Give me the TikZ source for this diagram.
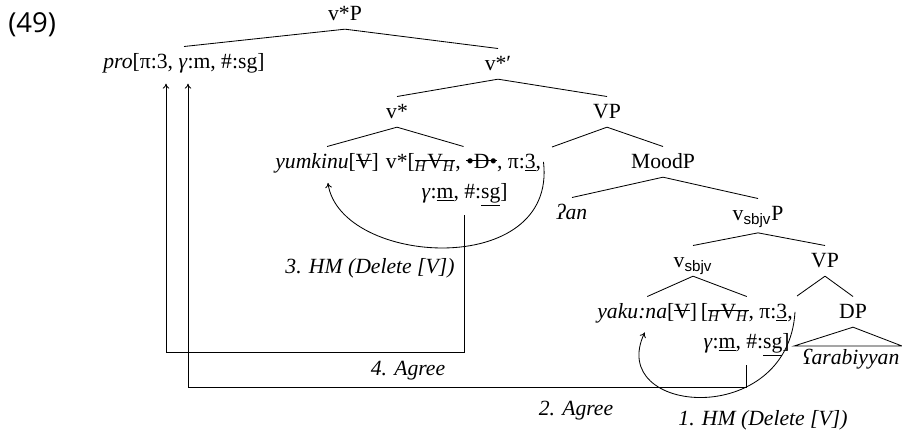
\documentclass[12pt,tikz,border=0pt]{standalone}
\usepackage{fontspec}
\setmainfont{Liberation Serif}
\setsansfont{Liberation Sans}
\newfontfamily\exfont{Open Sans}
\usetikzlibrary{arrows.meta,positioning,calc}
\newsavebox{\strkbox}
\newcommand{\strk}[1]{\sbox{\strkbox}{#1}\rlap{\usebox{\strkbox}}%
  \rule[0.32em]{\wd\strkbox}{0.45pt}}
\newcommand{\hsub}{\textsubscript{\textit{H}}}
\newcommand{\sbjv}{\textsubscript{\sffamily sbjv}}
\tikzset{
  cat/.style={anchor=base,text height=9.7pt,text depth=2.3pt,
              inner ysep=3pt,inner xsep=1.2pt},
  feat/.style={cat,anchor=base east},
  branch/.style={line width=0.5pt},
  movearr/.style={-{To[length=3pt,width=4pt]},line width=0.5pt,
                  shorten >=3.5pt},
  agreearr/.style={-{To[length=3pt,width=4pt]},line width=0.5pt,
                   shorten <=4.8pt,shorten >=3.9pt},
  steplabel/.style={anchor=base,font=\itshape,inner sep=0pt}
}
\begin{document}
\fontsize{13}{15.6}\selectfont
\begin{tikzpicture}[x=0.6pt,y=-0.6pt]
  \useasboundingbox (0,0) rectangle (902,431);

  \node[anchor=base west,inner sep=0pt,
        font=\exfont\fontsize{16.5}{19}\selectfont] (exno) at (8,32) {(49)};

  % categories
  \node[cat] (vsP) at (345,20) {v*P};
  \node[cat] (pro) at (184,68)
    {\textit{pro}[π:3, \textit{γ}:m, \#:sg]};
  \node[cat] (vsbar) at (498,70) {v*′};
  \node[cat] (vs) at (397,118) {v*};
  \node[cat] (vp) at (607,118) {VP};
  \node[cat,anchor=base west] (yum) at (273,168) {\textit{yumkinu}[\strk{V}]};
  \node[cat,base right=1.5pt of yum] (vsfeat)
    {v*[\strk{\hsub V\hsub}, \strk{•D•}, π:\underline{3},};
  \node[feat] (vsfeatb) at (510,198)
    {\textit{γ}:\underline{m}, \#:\underline{sg}]};
  \node[cat] (moodp) at (663,168) {MoodP};
  \node[cat] (an) at (572,219) {\textit{ʔan}};
  \node[cat,text depth=4.5pt] (vsbjvP) at (758,220) {v\sbjv P};
  \node[cat] (vsbjv) at (693,267) {v\sbjv};
  \node[cat] (vp2) at (825,267) {VP};
  \node[cat,anchor=base west] (yak) at (595,318) {\textit{yaku:na}[\strk{V}]};
  \node[feat] (yakfeat) at (795,318)
    {[\strk{\hsub V\hsub}, π:\underline{3},};
  \node[feat] (yakfeatb) at (792,348)
    {\textit{γ}:\underline{m}, \#:\underline{sg}]};
  \node[cat] (dp) at (853,318) {DP};
  \node[cat] (arab) at (851,364) {\textit{ʕarabiyyan}};

  \coordinate (vtr) at (552,147);
  \coordinate (vtrb) at (797,296);
  \coordinate (dpl) at (794,346);
  \coordinate (dpr) at (902,346);

  % branches
  \foreach \p/\c in {vsP/pro,vsP/vsbar,vsbar/vs,vsbar/vp,vs/yum,vs/vsfeat,
                     vp/moodp,moodp/an,moodp/vsbjvP,vsbjvP/vsbjv,vsbjvP/vp2,
                     vsbjv/yak,vsbjv/yakfeat,vp2/dp}
    \draw[branch] (\p.south) -- (\c.north);
  \draw[branch] (vp.south) -- (vtr);
  \draw[branch] (vp2.south) -- (vtrb);
  \draw[branch] (dp.south) -- (dpl) -- (dpr) -- cycle;

  % operations
  \draw[movearr] (yakfeat.east) .. controls +(-7,118) and +(-42,88) .. (yak.south);
  \coordinate (c2) at (188,387);
  \draw[agreearr] (yakfeatb.south) |- (c2) -- (pro.south -| c2);
  \draw[movearr] (vsfeat.east) .. controls +(14,118) and +(13,89) .. (yum.south);
  \coordinate (c4) at (166,352);
  \draw[agreearr] (vsfeatb.south) |- (c4) -- (pro.south -| c4);

  \node[steplabel] (hm1) at (763,425) {1. HM (Delete [V])};
  \node[steplabel] (ag2) at (576,415) {2. Agree};
  \node[steplabel] (hm3) at (370,273) {3. HM (Delete [V])};
  \node[steplabel] (ag4) at (408,375) {4. Agree};
\end{tikzpicture}
\end{document}
